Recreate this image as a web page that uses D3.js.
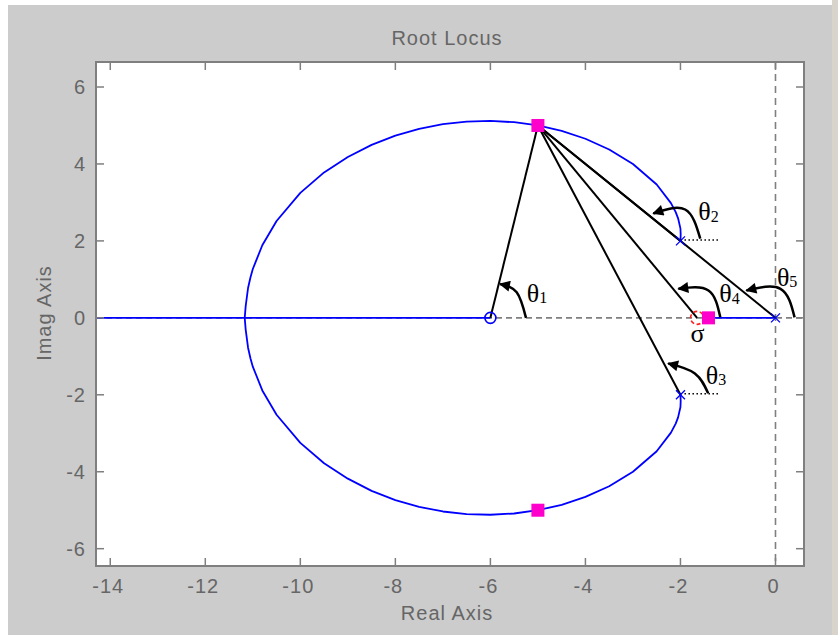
<!DOCTYPE html>
<html>
<head>
<meta charset="utf-8">
<script src="https://cdn.jsdelivr.net/npm/d3@7"></script>
<style>
html,body{margin:0;padding:0;background:#fff;}
svg{display:block;}
</style>
</head>
<body>
<svg id="chart" width="838" height="635"></svg>
<script>
// ---------- data ----------
const xTicks = [-14, -12, -10, -8, -6, -4, -2, 0];
const yTicks = [-6, -4, -2, 0, 2, 4, 6];

// open-loop poles (x markers) and zero (o marker)
const poleRe = [0, -2, -2];
const poleIm = [0, 2, -2];
const zeroRe = [-6];
const zeroIm = [0];
const sigmaRe = -1.65;           // red dashed circle (σ)

// closed-loop poles (magenta squares)
const clRe = [-5, -5, -1.41];
const clIm = [5, -5, 0];

// upper branch of the loop, from pole -2+2j to the break-in point
const locusRe = [-2, -1.995, -2, -2.05, -2.1, -2.2, -2.5, -3, -3.5, -4, -4.5, -5, -5.5, -6, -6.5, -7, -7.5, -8, -8.5, -9, -9.5, -10, -10.5, -10.8, -11, -11.05, -11.1, -11.15, -11.17];
const locusIm = [2, 2.16, 2.318, 2.587, 2.748, 2.983, 3.467, 4.0, 4.377, 4.655, 4.859, 5.0, 5.085, 5.118, 5.101, 5.033, 4.913, 4.736, 4.497, 4.18, 3.78, 3.25, 2.518, 1.887, 1.269, 1.05, 0.776, 0.305, 0];

// real-axis branches
const realBranchA = [-20, -6];
const realBranchB = [-1.41, 0];

// test point and the points the angle lines go to
const testRe = -5, testIm = 5;
const targetRe = [-6, -2, -2, -1.65, 0];
const targetIm = [0, 2, -2, 0, 0];

// angle labels: subscript text and vertex
const angleSub = ["1", "2", "3", "4", "5"];
const angleVRe = [-6, -2, -2, -1.65, 0];
const angleVIm = [0, 2, -2, 0, 0];

// ---------- layout ----------
const L = 96, R = 804, T = 62, B = 566;
const svg = d3.select("#chart");
const x = d3.scaleLinear().domain([-14.3, 0.6]).range([L, R]);
const y = d3.scaleLinear().domain([-6.45, 6.65]).range([B, T]);

// backgrounds
svg.append("rect").attr("x", 8).attr("y", 5).attr("width", 824).attr("height", 630).attr("fill", "#cccccc");
svg.append("rect").attr("x", 832).attr("y", 0).attr("width", 6).attr("height", 635).attr("fill", "#d8d3cb");
svg.append("rect").attr("x", L).attr("y", T).attr("width", R - L).attr("height", B - T).attr("fill", "#fff");

const defs = svg.append("defs");
defs.append("clipPath").attr("id", "clip").append("rect")
  .attr("x", L).attr("y", T).attr("width", R - L).attr("height", B - T);
defs.append("marker").attr("id", "arrow")
  .attr("viewBox", "0 0 10 10").attr("refX", 9).attr("refY", 5)
  .attr("markerWidth", 13).attr("markerHeight", 11)
  .attr("markerUnits", "userSpaceOnUse").attr("orient", "auto")
  .append("path").attr("d", "M0,0 L10,5 L0,10 z").attr("fill", "#000");

const plot = svg.append("g").attr("clip-path", "url(#clip)");

// dashed axes lines
plot.append("line").attr("x1", L).attr("x2", R).attr("y1", y(0)).attr("y2", y(0))
  .attr("stroke", "#7f7f7f").attr("stroke-width", 1.6).attr("stroke-dasharray", "6,4");
plot.append("line").attr("x1", x(0)).attr("x2", x(0)).attr("y1", T).attr("y2", B)
  .attr("stroke", "#7f7f7f").attr("stroke-width", 1.6).attr("stroke-dasharray", "7,5");

const blue = "#0000ff";
const line = d3.line().x(d => x(d[0])).y(d => y(d[1]));

// loop (upper and lower halves)
const upper = locusRe.map((v, i) => [v, locusIm[i]]);
const lower = locusRe.map((v, i) => [v, -locusIm[i]]);
[upper, lower].forEach(pts => {
  plot.append("path").attr("d", line(pts)).attr("fill", "none")
    .attr("stroke", blue).attr("stroke-width", 1.8).attr("stroke-linejoin", "round");
});
// real-axis branches
[realBranchA, realBranchB].forEach(seg => {
  plot.append("line").attr("x1", x(seg[0])).attr("x2", x(seg[1]))
    .attr("y1", y(0)).attr("y2", y(0)).attr("stroke", blue).attr("stroke-width", 1.8);
});

// dotted reference lines at the complex poles
[1, 2].forEach(i => {
  plot.append("line").attr("x1", x(poleRe[i])).attr("x2", x(poleRe[i]) + 40)
    .attr("y1", y(poleIm[i]) - 1).attr("y2", y(poleIm[i]) - 1)
    .attr("stroke", "#000").attr("stroke-width", 1.5).attr("stroke-dasharray", "1.5,2.5");
});

// angle lines from the test point
targetRe.forEach((v, i) => {
  plot.append("line").attr("x1", x(testRe)).attr("y1", y(testIm))
    .attr("x2", x(v)).attr("y2", y(targetIm[i]))
    .attr("stroke", "#000").attr("stroke-width", 2);
});

// pole markers (x)
poleRe.forEach((v, i) => {
  const cx = x(v), cy = y(poleIm[i]), s = 4.5;
  plot.append("path").attr("d", `M${cx - s},${cy - s}L${cx + s},${cy + s}M${cx - s},${cy + s}L${cx + s},${cy - s}`)
    .attr("stroke", blue).attr("stroke-width", 1.3);
});
// zero marker
zeroRe.forEach((v, i) => {
  plot.append("circle").attr("cx", x(v)).attr("cy", y(zeroIm[i])).attr("r", 5.5)
    .attr("fill", "none").attr("stroke", blue).attr("stroke-width", 1.6);
});
// sigma circle (red dashed)
plot.append("circle").attr("cx", x(sigmaRe)).attr("cy", y(0)).attr("r", 6.5)
  .attr("fill", "none").attr("stroke", "#ff2020").attr("stroke-width", 1.6).attr("stroke-dasharray", "4,2.5");

// closed-loop pole squares
clRe.forEach((v, i) => {
  plot.append("rect").attr("x", x(v) - 6.5).attr("y", y(clIm[i]) - 6.5)
    .attr("width", 13).attr("height", 13).attr("fill", "#ff00cc");
});

// angle arcs (offsets in px from the vertex)
const arcShapes = [
  [[35.6, 0], [26.3, -25.5], [9.6, -33.8]],
  [[19.8, -2.3], [4.7, -31.4], [-27.1, -27.4]],
  [[27.7, -1.5], [14.4, -21.4], [-12.3, -31.4]],
  [[23.2, -0.5], [11.4, -27.3], [-18.7, -29]],
  [[19.1, -0.5], [5, -29], [-29.1, -27.3]]
];
const labelOff = [[36.4, -16.1], [17.7, -20.7], [25.4, -11.1], [22.2, -15.6], [1.4, -32.3]];
const curve = d3.line().curve(d3.curveNatural);
angleVRe.forEach((v, i) => {
  const vx = x(v), vy = y(angleVIm[i]);
  const pts = arcShapes[i].map(p => [vx + p[0], vy + p[1]]);
  svg.append("path").attr("d", curve(pts)).attr("fill", "none")
    .attr("stroke", "#000").attr("stroke-width", 2.5).attr("marker-end", "url(#arrow)");
  const t = svg.append("text").attr("x", vx + labelOff[i][0]).attr("y", vy + labelOff[i][1])
    .attr("font-family", "'Liberation Serif','Times New Roman',serif").attr("font-size", 26).attr("fill", "#000");
  t.append("tspan").text("θ");
  t.append("tspan").attr("font-size", 16).attr("dy", 1.5).text(angleSub[i]);
});
svg.append("text").attr("x", x(sigmaRe) - 6.5).attr("y", y(0) + 24.5)
  .attr("font-family", "'Liberation Serif','Times New Roman',serif").attr("font-size", 26).text("σ");

// frame and ticks
const gray = "#7f7f7f";
const tickLen = 8;
const axes = svg.append("g");
xTicks.forEach(v => {
  axes.append("line").attr("x1", x(v)).attr("x2", x(v)).attr("y1", B).attr("y2", B - tickLen).attr("stroke", gray).attr("stroke-width", 1.5);
  axes.append("line").attr("x1", x(v)).attr("x2", x(v)).attr("y1", T).attr("y2", T + tickLen).attr("stroke", gray).attr("stroke-width", 1.5);
});
yTicks.forEach(v => {
  axes.append("line").attr("y1", y(v)).attr("y2", y(v)).attr("x1", L).attr("x2", L + tickLen).attr("stroke", gray).attr("stroke-width", 1.5);
  axes.append("line").attr("y1", y(v)).attr("y2", y(v)).attr("x1", R).attr("x2", R - tickLen).attr("stroke", gray).attr("stroke-width", 1.5);
});
axes.append("rect").attr("x", L).attr("y", T).attr("width", R - L).attr("height", B - T)
  .attr("fill", "none").attr("stroke", gray).attr("stroke-width", 2);

const font = "'Liberation Sans', Arial, sans-serif";
const txtCol = "#666";
xTicks.forEach(v => {
  svg.append("text").attr("x", x(v) - 2).attr("y", 593).attr("text-anchor", "middle")
    .attr("font-family", font).attr("font-size", 20).attr("letter-spacing", 1).attr("fill", txtCol).text(v);
});
yTicks.forEach(v => {
  svg.append("text").attr("x", 86).attr("y", y(v) + 7).attr("text-anchor", "end")
    .attr("font-family", font).attr("font-size", 20).attr("letter-spacing", 1).attr("fill", txtCol).text(v);
});
svg.append("text").attr("x", 447).attr("y", 45).attr("text-anchor", "middle")
  .attr("font-family", font).attr("font-size", 20).attr("letter-spacing", 1).attr("fill", txtCol).text("Root Locus");
svg.append("text").attr("x", 447).attr("y", 620).attr("text-anchor", "middle")
  .attr("font-family", font).attr("font-size", 20).attr("letter-spacing", 1).attr("fill", txtCol).text("Real Axis");
svg.append("text").attr("transform", "translate(51,313) rotate(-90)").attr("text-anchor", "middle")
  .attr("font-family", font).attr("font-size", 20).attr("letter-spacing", 1).attr("fill", txtCol).text("Imag Axis");
</script>
</body>
</html>
